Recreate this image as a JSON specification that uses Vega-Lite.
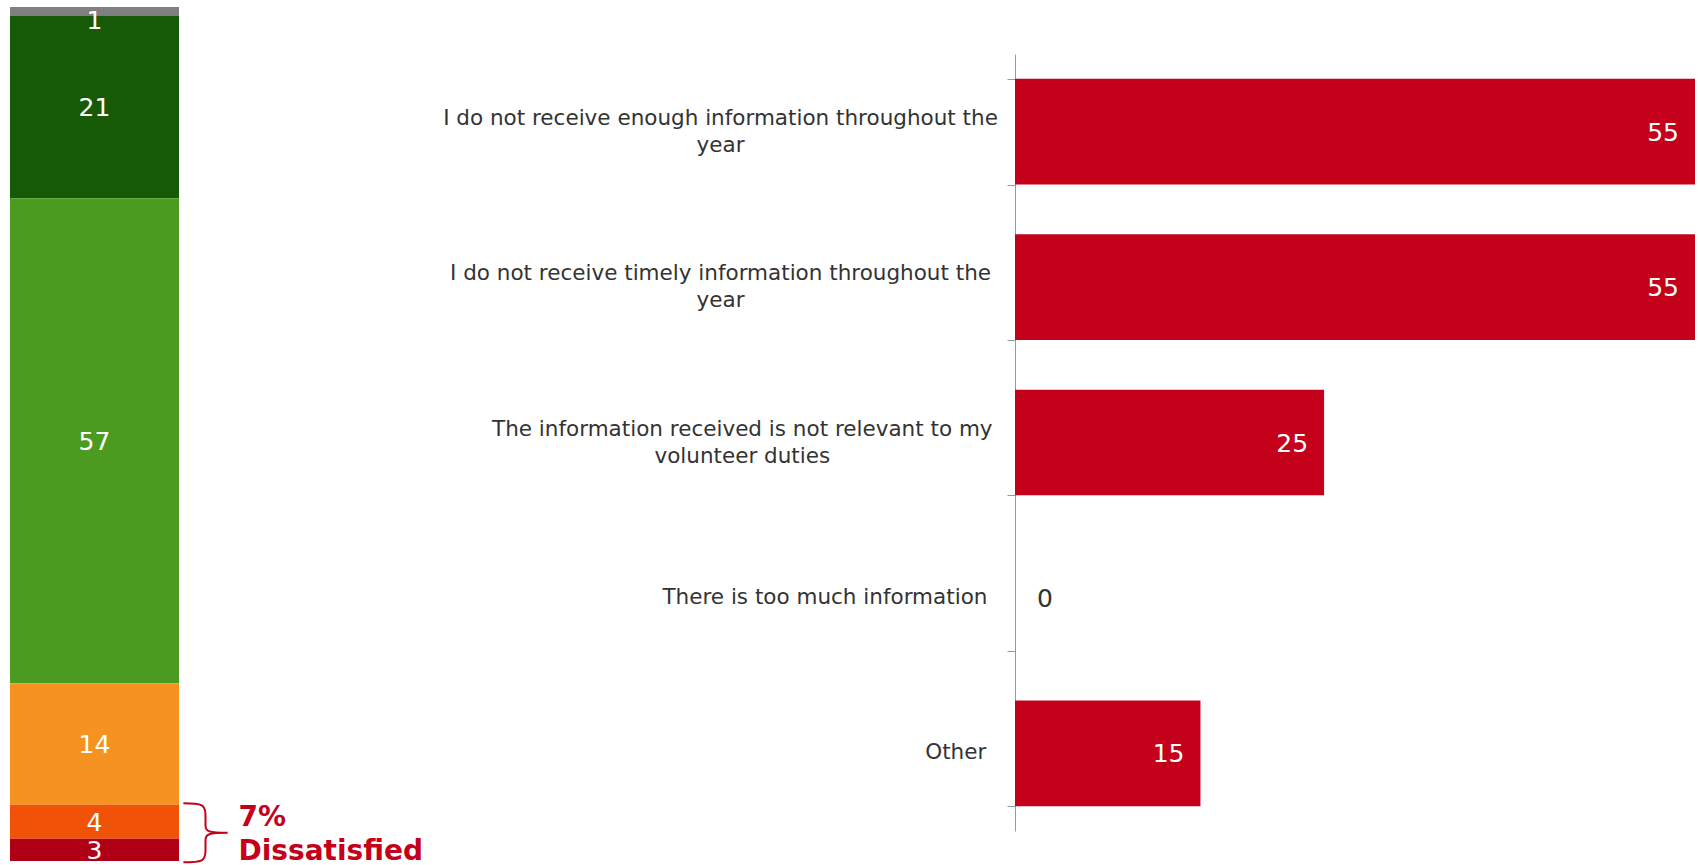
{
  "$schema": "https://vega.github.io/schema/vega-lite/v6.json",
  "padding": {"left": 10, "top": 7, "right": 0, "bottom": 0},
  "background": "white",
  "bounds": "flush",
  "spacing": 836,
  "config": {"view": {"stroke": null}, "font": "DejaVu Sans"},
  "hconcat": [
    {
      "width": 169,
      "height": 854,
      "data": {
        "values": [
          {"group": "Overall", "cat": "Don't know", "rank": 6, "v": 1.0},
          {"group": "Overall", "cat": "Very satisfied", "rank": 5, "v": 21.4},
          {"group": "Overall", "cat": "Satisfied", "rank": 4, "v": 56.8},
          {"group": "Overall", "cat": "Neither satisfied nor dissatisfied", "rank": 3, "v": 14.2},
          {"group": "Overall", "cat": "Dissatisfied", "rank": 2, "v": 4.0},
          {"group": "Overall", "cat": "Very dissatisfied", "rank": 1, "v": 2.6}
        ]
      },
      "encoding": {
        "x": {"field": "group", "type": "nominal", "axis": null, "scale": {"paddingInner": 0, "paddingOuter": 0}}
      },
      "layer": [
        {
          "mark": {"type": "bar"},
          "encoding": {
            "y": {"field": "v", "type": "quantitative", "stack": "zero", "axis": null, "scale": {"domain": [0, 100], "nice": false}},
            "color": {
              "field": "cat",
              "type": "nominal",
              "legend": null,
              "scale": {
                "domain": ["Don't know", "Very satisfied", "Satisfied", "Neither satisfied nor dissatisfied", "Dissatisfied", "Very dissatisfied"],
                "range": ["#808080", "#165A07", "#4A9B1F", "#F6921F", "#F05208", "#B00016"]
              }
            },
            "order": {"field": "rank", "type": "quantitative"}
          }
        },
        {
          "mark": {"type": "text", "color": "white", "fontSize": 25, "baseline": "middle", "dy": {"expr": "datum.v < 2 ? 10 : 1"}},
          "encoding": {
            "y": {"field": "v", "type": "quantitative", "stack": "zero", "bandPosition": 0.5, "axis": null},
            "detail": {"field": "cat", "type": "nominal"},
            "order": {"field": "rank", "type": "quantitative"},
            "text": {"field": "v", "type": "quantitative", "format": ".0f"}
          }
        },
        {
          "data": {"values": [{"group": "Overall"}]},
          "mark": {
            "type": "point",
            "filled": false,
            "stroke": "#C4001A",
            "strokeWidth": 2,
            "opacity": 1,
            "size": 3481,
            "xOffset": 111,
            "shape": "M -0.75 -1 C -0.1 -1 0 -0.95 0 -0.6 L 0 -0.25 C 0 -0.05 0.1 0 0.75 0 C 0.1 0 0 0.05 0 0.25 L 0 0.6 C 0 0.95 -0.1 1 -0.75 1"
          },
          "encoding": {
            "y": {"datum": 3.3, "type": "quantitative", "axis": null}
          }
        },
        {
          "data": {"values": [{"group": "Overall"}]},
          "mark": {
            "type": "text",
            "align": "left",
            "baseline": "middle",
            "dx": 144,
            "dy": -15,
            "fontSize": 28,
            "fontWeight": "bold",
            "lineHeight": 34,
            "color": "#C4001A",
            "text": ["7%", "Dissatisfied"]
          },
          "encoding": {
            "y": {"datum": 3.3, "type": "quantitative", "axis": null}
          }
        }
      ]
    },
    {
      "width": 680,
      "height": 854,
      "data": {
        "values": [
          {"reason": "I do not receive enough information throughout the|year", "pct": 55},
          {"reason": "I do not receive timely information throughout the|year", "pct": 55},
          {"reason": "The information received is not relevant to my|volunteer duties", "pct": 25},
          {"reason": "There is too much information", "pct": 0},
          {"reason": "Other", "pct": 15}
        ]
      },
      "encoding": {
        "y": {
          "field": "reason",
          "type": "nominal",
          "sort": null,
          "scale": {"range": [47, 824], "paddingInner": 0.32, "paddingOuter": 0.16},
          "axis": {
            "title": null,
            "labels": false,
            "tickSize": 8,
            "tickColor": "#999999",
            "domainColor": "#999999",
            "tickBand": "extent",
            "grid": false
          }
        },
        "x": {"field": "pct", "type": "quantitative", "axis": null, "scale": {"domain": [0, 55], "nice": false}}
      },
      "layer": [
        {
          "mark": {"type": "bar", "color": "#C4001A"}
        },
        {
          "mark": {
            "type": "text",
            "align": "center",
            "baseline": "middle",
            "lineBreak": "|",
            "lineHeight": 27,
            "fontSize": 21.5,
            "color": "#333333",
            "dx": {"expr": "-(indexof(datum.reason, '|') < 0 ? 32 : 22) - 5.45 * length(split(datum.reason, '|')[0])"},
            "dy": {"expr": "indexof(datum.reason, '|') < 0 ? 0 : -13"}
          },
          "encoding": {
            "x": {"datum": 0, "type": "quantitative"},
            "text": {"field": "reason", "type": "nominal"}
          }
        },
        {
          "transform": [{"filter": "datum.pct > 0"}],
          "mark": {"type": "text", "align": "right", "baseline": "middle", "dx": -16, "dy": 1, "color": "white", "fontSize": 25},
          "encoding": {
            "text": {"field": "pct", "type": "quantitative"}
          }
        },
        {
          "transform": [{"filter": "datum.pct == 0"}],
          "mark": {"type": "text", "align": "left", "baseline": "middle", "dx": 22, "dy": 1, "color": "#333333", "fontSize": 25},
          "encoding": {
            "text": {"field": "pct", "type": "quantitative"}
          }
        }
      ]
    }
  ]
}
